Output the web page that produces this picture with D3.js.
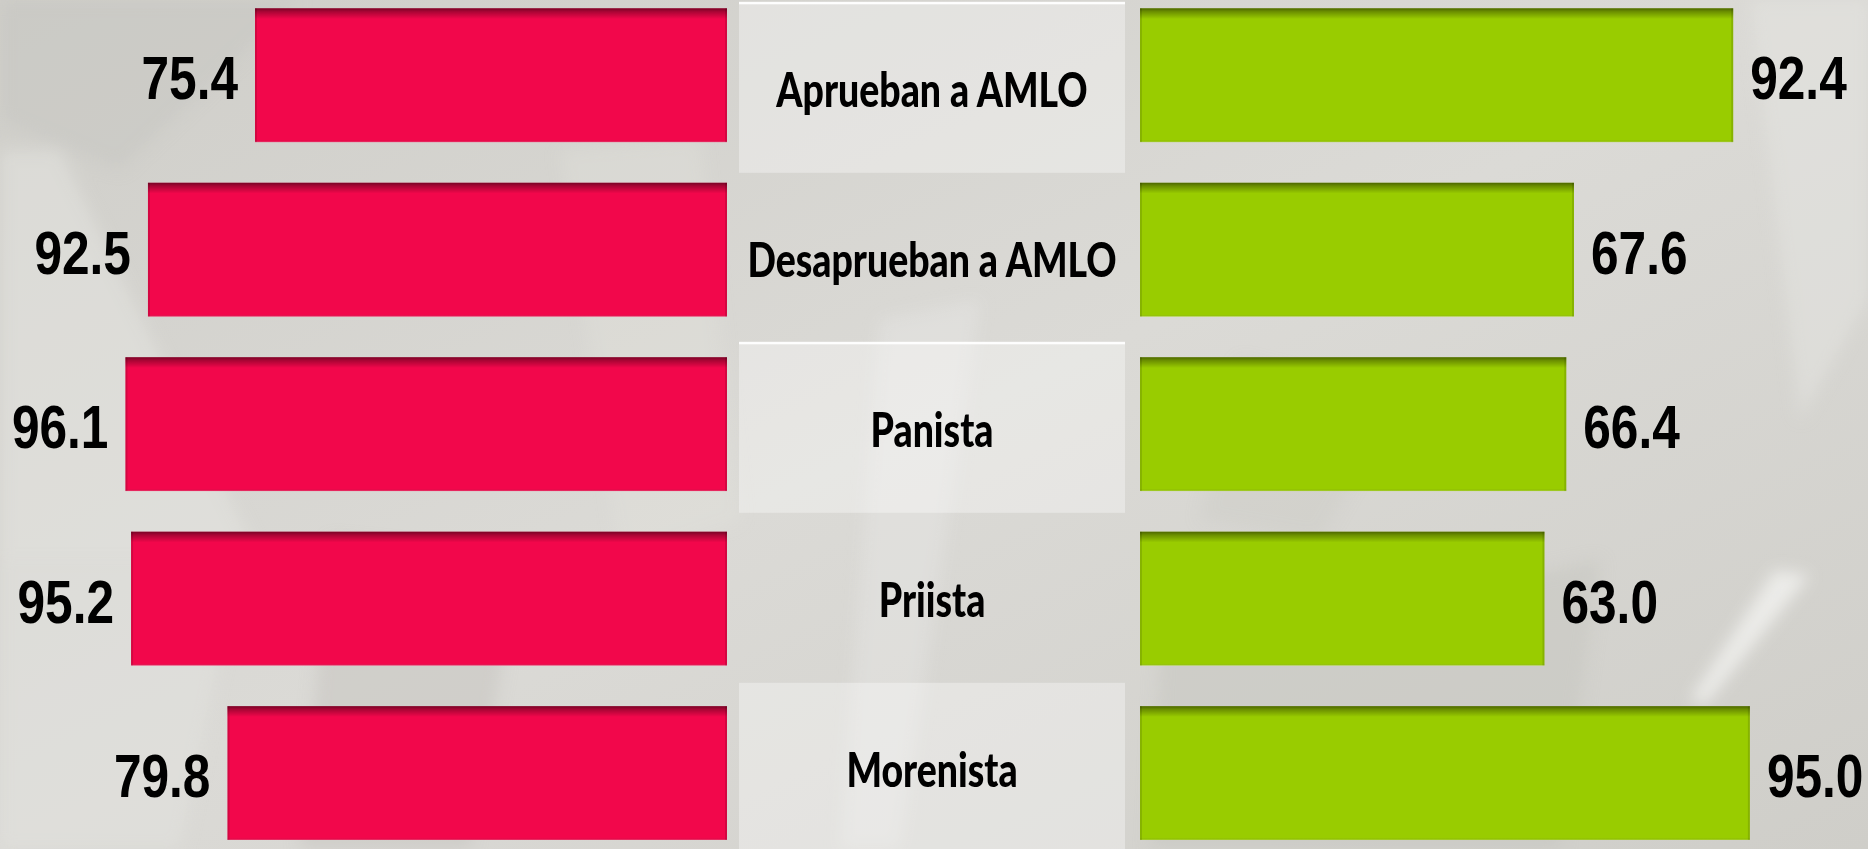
<!DOCTYPE html>
<html>
<head>
<meta charset="utf-8">
<script src="https://cdn.jsdelivr.net/npm/d3@7"></script>
<style>
  html, body { margin: 0; padding: 0; background: #d6d5d0; overflow: hidden; }
  svg { display: block; }
</style>
</head>
<body>
<div id="chart"></div>
<script>
// data
const categories = ["Aprueban a AMLO", "Desaprueban a AMLO", "Panista", "Priista", "Morenista"];
const leftValues = [75.4, 92.5, 96.1, 95.2, 79.8];
const rightValues = [92.4, 67.6, 66.4, 63.0, 95.0];

const WIDTH = 1868, HEIGHT = 849;
const leftColor = "#f2074b", rightColor = "#99cc00";

let svg = d3.select("#chart").append("svg")
    .attr("width", WIDTH).attr("height", HEIGHT);

let defs = svg.append("defs");

// background
let bg = defs.append("linearGradient").attr("id", "bg")
    .attr("x1", 0).attr("y1", 0).attr("x2", 1).attr("y2", 1);
bg.append("stop").attr("offset", "0%").attr("stop-color", "#cfcec9");
bg.append("stop").attr("offset", "50%").attr("stop-color", "#dbdad6");
bg.append("stop").attr("offset", "100%").attr("stop-color", "#cfcec9");
svg.append("rect").attr("width", WIDTH).attr("height", HEIGHT).attr("fill", "url(#bg)");

defs.append("filter").attr("id", "soft")
    .attr("x", "-20%").attr("y", "-20%").attr("width", "140%").attr("height", "140%")
    .append("feGaussianBlur").attr("stdDeviation", 8);

// a few faceted shapes in the backdrop
const facets = [
    {p: [[0, 0], [300, 0], [120, 170], [0, 120]], c: "#c6c5c0", o: 0.45},
    {p: [[0, 150], [60, 150], [260, 560], [0, 560]], c: "#e6e6e2", o: 0.5},
    {p: [[0, 560], [240, 560], [180, 849], [0, 849]], c: "#e2e2de", o: 0.55},
    {p: [[330, 540], [520, 560], [470, 849], [300, 849]], c: "#c3c2bc", o: 0.45},
    {p: [[560, 150], [700, 140], [740, 520], [620, 560]], c: "#e3e3df", o: 0.3},
    {p: [[1160, 650], [1600, 560], [1560, 849], [1150, 849]], c: "#c6c5bf", o: 0.5},
    {p: [[1775, 570], [1810, 575], [1705, 705], [1690, 700]], c: "#f2f2f0", o: 0.8},
    {p: [[1750, 0], [1868, 0], [1868, 300], [1800, 420]], c: "#e4e4e0", o: 0.55},
    {p: [[1240, 360], [1400, 400], [1320, 540], [1200, 520]], c: "#c8c7c1", o: 0.3},
    {p: [[880, 320], [980, 300], [900, 849], [840, 849]], c: "#f0f0ee", o: 0.3}
];
svg.append("g").attr("filter", "url(#soft)")
    .selectAll("polygon").data(facets).join("polygon")
    .attr("points", d => d.p.map(q => q.join(",")).join(" "))
    .attr("fill", d => d.c).attr("opacity", d => d.o);

// inner shading on bars
let shade = defs.append("linearGradient").attr("id", "topShade")
    .attr("x1", 0).attr("y1", 0).attr("x2", 0).attr("y2", 1);
shade.append("stop").attr("offset", "0").attr("stop-color", "#000").attr("stop-opacity", 0.5);
shade.append("stop").attr("offset", "0.025").attr("stop-color", "#000").attr("stop-opacity", 0.3);
shade.append("stop").attr("offset", "0.08").attr("stop-color", "#000").attr("stop-opacity", 0);
shade.append("stop").attr("offset", "0.985").attr("stop-color", "#000").attr("stop-opacity", 0);
shade.append("stop").attr("offset", "1").attr("stop-color", "#fff").attr("stop-opacity", 0.25);

// scales
let y = d3.scaleBand().domain(categories).range([8.3, 840]).paddingInner(0.233).paddingOuter(0);
let yLabel = d3.scaleBand().domain(categories).range([2.8, 852.8]);
let xLeft = d3.scaleLinear().domain([0, 100]).range([727, 101]);
let xRight = d3.scaleLinear().domain([0, 100]).range([1140, 1782]);

// category boxes
let labelG = svg.append("g");
labelG.selectAll("rect.box").data(categories.filter((d, i) => i % 2 === 0)).join("rect")
    .attr("class", "box")
    .attr("x", 739).attr("width", 386)
    .attr("y", d => yLabel(d)).attr("height", yLabel.bandwidth())
    .attr("fill", "#fff").attr("opacity", 0.35);
labelG.selectAll("rect.topline").data(categories.filter((d, i) => i % 2 === 0 && i < 4)).join("rect")
    .attr("class", "topline")
    .attr("x", 739).attr("width", 386)
    .attr("y", d => yLabel(d) - 1).attr("height", 2.5)
    .attr("fill", "#fff").attr("opacity", 0.95);

function drawBars(values, x, color, side) {
    let g = svg.append("g");
    let rows = categories.map((c, i) => ({c: c, v: values[i]}));
    let bx = d => side === "left" ? x(d.v) : x(0);
    let bw = d => Math.abs(x(d.v) - x(0));
    g.selectAll("rect.bar").data(rows).join("rect").attr("class", "bar")
        .attr("x", bx).attr("y", d => y(d.c))
        .attr("width", bw).attr("height", y.bandwidth())
        .attr("fill", color);
    g.selectAll("rect.shade").data(rows).join("rect").attr("class", "shade")
        .attr("x", bx).attr("y", d => y(d.c))
        .attr("width", bw).attr("height", y.bandwidth())
        .attr("fill", "url(#topShade)");
    // thin darker side edges
    g.selectAll("rect.edgeL").data(rows).join("rect").attr("class", "edgeL")
        .attr("x", bx).attr("y", d => y(d.c))
        .attr("width", 2).attr("height", y.bandwidth())
        .attr("fill", "#000").attr("opacity", 0.12);
    g.selectAll("rect.edgeR").data(rows).join("rect").attr("class", "edgeR")
        .attr("x", d => bx(d) + bw(d) - 2).attr("y", d => y(d.c))
        .attr("width", 2).attr("height", y.bandwidth())
        .attr("fill", "#000").attr("opacity", 0.12);
    // value labels
    g.selectAll("text").data(rows).join("text")
        .attr("transform", d => {
            let tx = side === "left" ? x(d.v) - 17 : x(d.v) + 17;
            let ty = y(d.c) + y.bandwidth() / 2 + 24;
            return "translate(" + tx + "," + ty + ") scale(0.8,1)";
        })
        .attr("text-anchor", side === "left" ? "end" : "start")
        .attr("font-family", "'Liberation Sans', Arial, sans-serif")
        .attr("font-weight", "bold")
        .attr("font-size", 62)
        .attr("fill", "#000")
        .text(d => d.v.toFixed(1));
}

drawBars(leftValues, xLeft, leftColor, "left");
drawBars(rightValues, xRight, rightColor, "right");

// category labels
labelG.selectAll("text").data(categories).join("text")
    .attr("transform", d => "translate(932," + (yLabel(d) + yLabel.bandwidth() / 2 + 19) + ") scale(0.78,1)")
    .attr("text-anchor", "middle")
    .attr("font-family", "Lato, 'Open Sans', sans-serif")
    .attr("font-weight", 900)
    .attr("font-size", 48)
    .attr("fill", "#000")
    .text(d => d);
</script>
</body>
</html>
